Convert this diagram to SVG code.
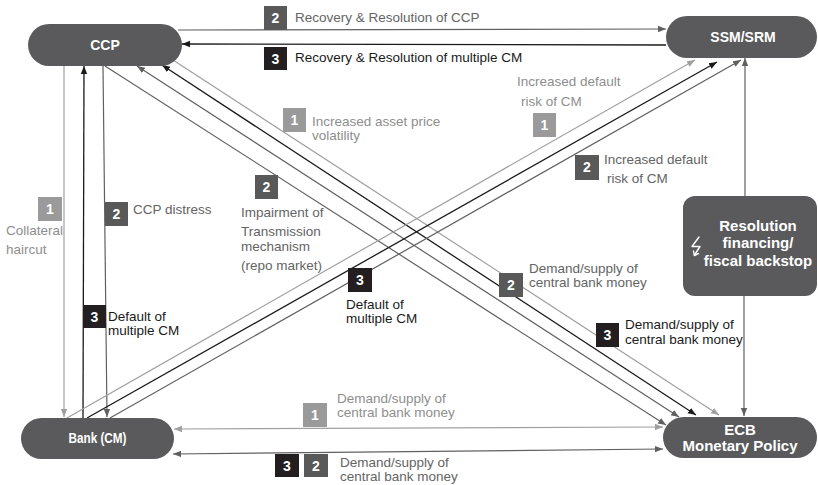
<svg xmlns="http://www.w3.org/2000/svg" width="818" height="485" viewBox="0 0 818 485">
<style>
text{font-family:"Liberation Sans",Arial,sans-serif}
.node{fill:#5a5a5c}
.nt{fill:#fff;font-weight:bold;text-anchor:middle}
.lb{font-size:13.5px}
.lt{fill:#8e8e8e}
.dt{fill:#646464}
.bt{fill:#1a1a1a}
.b1{fill:#9a9a9a}
.b2{fill:#595959}
.b3{fill:#231f20}
.num{fill:#fff;font-weight:bold;font-size:14px;text-anchor:middle}
.cl{fill:none;stroke:#a0a0a0;stroke-width:1.2}
.cd{fill:none;stroke:#606060;stroke-width:1.2}
.cb{fill:none;stroke:#1a1a1a;stroke-width:1.3}
</style>
<defs>
<marker id="aL" markerUnits="userSpaceOnUse" markerWidth="9" markerHeight="8" refX="8" refY="4" orient="auto-start-reverse"><path d="M0,0.8 L8,4 L0,7.2 z" fill="#a0a0a0"/></marker>
<marker id="aD" markerUnits="userSpaceOnUse" markerWidth="9" markerHeight="8" refX="8" refY="4" orient="auto-start-reverse"><path d="M0,0.8 L8,4 L0,7.2 z" fill="#606060"/></marker>
<marker id="aB" markerUnits="userSpaceOnUse" markerWidth="9" markerHeight="8" refX="8" refY="4" orient="auto-start-reverse"><path d="M0,0.8 L8,4 L0,7.2 z" fill="#1a1a1a"/></marker>
</defs>

<g id="connectors">
<line class="cd" x1="178" y1="30" x2="666" y2="29" marker-end="url(#aD)"/>
<line class="cb" x1="666" y1="45" x2="182" y2="44" marker-end="url(#aB)"/>
<line class="cl" x1="64" y1="66" x2="64" y2="417" marker-end="url(#aL)"/>
<line class="cb" x1="83" y1="418" x2="84" y2="66" marker-end="url(#aB)"/>
<line class="cd" x1="103" y1="66" x2="107" y2="417" marker-end="url(#aD)"/>
<line class="cl" x1="173" y1="60" x2="719" y2="415" marker-end="url(#aL)"/>
<line class="cb" x1="162" y1="65" x2="696" y2="415" marker-start="url(#aB)" marker-end="url(#aB)"/>
<line class="cd" x1="137" y1="66" x2="679" y2="417" marker-start="url(#aD)" marker-end="url(#aD)"/>
<line class="cd" x1="105" y1="66" x2="666" y2="425" marker-end="url(#aD)"/>
<line class="cl" x1="67" y1="418" x2="695" y2="60" marker-end="url(#aL)"/>
<line class="cb" x1="87" y1="418" x2="717" y2="62" marker-end="url(#aB)"/>
<line class="cd" x1="110" y1="418" x2="741" y2="60" marker-end="url(#aD)"/>
<line class="cd" x1="745" y1="196" x2="745" y2="58" marker-end="url(#aD)"/>
<line class="cd" x1="744" y1="296" x2="744" y2="416" marker-end="url(#aD)"/>
<line class="cl" x1="174" y1="429" x2="663" y2="427" marker-start="url(#aL)" marker-end="url(#aL)"/>
<line class="cd" x1="173" y1="454" x2="663" y2="449" marker-start="url(#aD)" marker-end="url(#aD)"/>
</g>

<g id="labels">
<g id="lbl-top2"><rect class="b2" x="264" y="6" width="23" height="24"/><text class="num" x="275.5" y="23">2</text><text class="lb dt" x="295" y="22">Recovery &amp; Resolution of CCP</text></g>
<g id="lbl-top3"><rect class="b3" x="264" y="47" width="23" height="23"/><text class="num" x="275.5" y="64">3</text><text class="lb bt" x="295" y="62">Recovery &amp; Resolution of multiple CM</text></g>
<g id="lbl-vol"><rect class="b1" x="283" y="108" width="23" height="24"/><text class="num" x="294.5" y="125">1</text><text class="lb lt" x="312" y="126">Increased asset price</text><text class="lb lt" x="312" y="140">volatility</text></g>
<g id="lbl-risk1"><text class="lb lt" x="517" y="86">Increased default</text><text class="lb lt" x="521" y="106">risk of CM</text><rect class="b1" x="533" y="113" width="23" height="24"/><text class="num" x="544.5" y="130">1</text></g>
<g id="lbl-risk2"><rect class="b2" x="575" y="155" width="24" height="25"/><text class="num" x="587" y="172">2</text><text class="lb dt" x="604" y="164">Increased default</text><text class="lb dt" x="607" y="183">risk of CM</text></g>
<g id="lbl-haircut"><rect class="b1" x="38" y="197" width="24" height="24"/><text class="num" x="50" y="214">1</text><text class="lb lt" x="6" y="235">Collateral</text><text class="lb lt" x="6" y="254">haircut</text></g>
<g id="lbl-distress"><rect class="b2" x="105" y="202" width="23" height="24"/><text class="num" x="116.5" y="219">2</text><text class="lb dt" x="133" y="214">CCP distress</text></g>
<g id="lbl-impair"><rect class="b2" x="255" y="175" width="23" height="24"/><text class="num" x="266.5" y="192">2</text><text class="lb dt" x="241" y="217">Impairment of</text><text class="lb dt" x="241" y="236">Transmission</text><text class="lb dt" x="241" y="251">mechanism</text><text class="lb dt" x="241" y="270">(repo market)</text></g>
<g id="lbl-default-left"><rect class="b3" x="83" y="305" width="23" height="23"/><text class="num" x="94.5" y="322">3</text><text class="lb bt" x="108" y="321">Default of</text><text class="lb bt" x="108" y="335">multiple CM</text></g>
<g id="lbl-default-mid"><rect class="b3" x="348" y="268" width="24" height="24"/><text class="num" x="360" y="285">3</text><text class="lb bt" x="346" y="309">Default of</text><text class="lb bt" x="346" y="323">multiple CM</text></g>
<g id="lbl-dem2"><rect class="b2" x="499" y="273" width="24" height="24"/><text class="num" x="511" y="290">2</text><text class="lb dt" x="529" y="273">Demand/supply of</text><text class="lb dt" x="529" y="287">central bank money</text></g>
<g id="lbl-dem3"><rect class="b3" x="596" y="323" width="23" height="24"/><text class="num" x="607.5" y="340">3</text><text class="lb bt" x="625" y="329">Demand/supply of</text><text class="lb bt" x="625" y="344">central bank money</text></g>
<g id="lbl-dem1-bottom"><rect class="b1" x="303" y="403" width="24" height="24"/><text class="num" x="315" y="420">1</text><text class="lb lt" x="337" y="403">Demand/supply of</text><text class="lb lt" x="337" y="417">central bank money</text></g>
<g id="lbl-dem32-bottom"><rect class="b3" x="275" y="454" width="24" height="23"/><text class="num" x="287" y="471">3</text><rect class="b2" x="304" y="454" width="24" height="23"/><text class="num" x="316" y="471">2</text><text class="lb dt" x="340" y="467">Demand/supply of</text><text class="lb dt" x="340" y="481">central bank money</text></g>
</g>

<g id="ccp"><rect class="node" x="28" y="24" width="154" height="42" rx="21"/><text class="nt" x="105" y="50" font-size="14">CCP</text></g>
<g id="ssm"><rect class="node" x="666" y="16" width="151" height="42" rx="21"/><text class="nt" x="743" y="42" font-size="14">SSM/SRM</text></g>
<g id="bank"><rect class="node" x="21" y="418" width="153" height="41" rx="20.5"/><text class="nt" x="97.5" y="443" font-size="14" textLength="58" lengthAdjust="spacingAndGlyphs">Bank (CM)</text></g>
<g id="ecb"><rect class="node" x="663" y="417" width="154" height="41" rx="20.5"/><text class="nt" x="740" y="435" font-size="15">ECB</text><text class="nt" x="740" y="451" font-size="15">Monetary Policy</text></g>
<g id="resolution"><rect class="node" x="683" y="196" width="134" height="100" rx="12"/><text class="nt" x="758" y="231" font-size="15">Resolution</text><text class="nt" x="758" y="248" font-size="15">financing/</text><text class="nt" x="758" y="266" font-size="15">fiscal backstop</text>
<g id="icon-bolt" fill="none" stroke="#fff" stroke-width="1.4" stroke-linejoin="round" stroke-linecap="round"><path d="M699,237 L692,246.5 L700,246.5 L694.5,255"/><path d="M693.5,251 L694.3,255.5 L698.5,253.5"/></g></g>
</svg>
